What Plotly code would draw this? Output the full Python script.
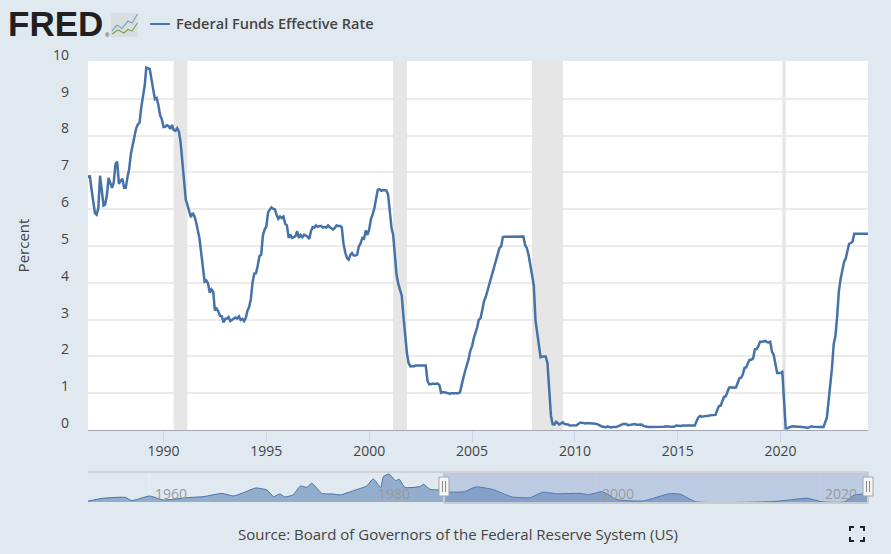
import pandas as pd
import plotly.graph_objects as go

W, H = 891, 554
BG = "#e1e9f0"
LINE = "#4572a7"
TXT = "#444444"
FONT = "Open Sans"

rate_start = "1986-05-01"
rate = [
 6.85,6.92,6.56,6.17,5.89,5.85,6.04,6.91,
 6.43,6.10,6.13,6.37,6.85,6.73,6.58,6.73,7.22,7.29,6.69,6.77,
 6.83,6.58,6.58,6.87,7.09,7.51,7.75,8.01,8.19,8.30,8.35,8.76,
 9.12,9.36,9.85,9.84,9.81,9.53,9.24,8.99,9.02,8.84,8.55,8.45,
 8.23,8.24,8.28,8.26,8.18,8.29,8.15,8.13,8.20,8.11,7.81,7.31,
 6.91,6.25,6.12,5.91,5.78,5.90,5.82,5.66,5.45,5.21,4.81,4.43,
 4.03,4.06,3.98,3.73,3.82,3.76,3.25,3.30,3.22,3.10,3.09,2.92,
 3.02,3.03,3.07,2.96,3.00,3.04,3.06,3.03,3.09,2.99,3.02,2.96,
 3.05,3.25,3.34,3.56,4.01,4.25,4.26,4.47,4.73,4.76,5.29,5.45,
 5.53,5.92,5.98,6.05,6.01,6.00,5.85,5.74,5.80,5.76,5.80,5.60,
 5.56,5.22,5.31,5.22,5.24,5.27,5.40,5.22,5.30,5.24,5.31,5.29,
 5.25,5.19,5.39,5.51,5.50,5.56,5.52,5.54,5.54,5.50,5.52,5.50,
 5.56,5.51,5.49,5.45,5.49,5.56,5.54,5.55,5.51,5.07,4.83,4.68,
 4.63,4.76,4.81,4.74,4.74,4.76,4.99,5.07,5.22,5.20,5.42,5.30,
 5.45,5.73,5.85,6.02,6.27,6.53,6.54,6.50,6.52,6.51,6.51,6.40,
 5.98,5.49,5.31,4.80,4.21,3.97,3.77,3.65,3.07,2.49,2.09,1.82,
 1.73,1.74,1.73,1.75,1.75,1.75,1.73,1.74,1.75,1.75,1.34,1.24,
 1.24,1.26,1.25,1.26,1.26,1.22,1.01,1.03,1.01,1.01,1.00,0.98,
 1.00,1.01,1.00,1.00,1.00,1.03,1.26,1.43,1.61,1.76,1.93,2.16,
 2.28,2.50,2.63,2.79,3.00,3.04,3.26,3.50,3.62,3.78,4.00,4.16,
 4.29,4.49,4.59,4.79,4.94,4.99,5.24,5.25,5.25,5.25,5.25,5.24,
 5.25,5.26,5.26,5.25,5.25,5.25,5.26,5.02,4.94,4.76,4.49,4.24,
 3.94,2.98,2.61,2.28,1.98,2.00,2.01,2.00,1.81,0.97,0.39,0.16,
 0.15,0.22,0.18,0.15,0.18,0.21,0.16,0.16,0.15,0.12,0.12,0.12,
 0.11,0.13,0.16,0.20,0.20,0.18,0.18,0.19,0.19,0.19,0.19,0.18,
 0.17,0.16,0.14,0.10,0.09,0.09,0.07,0.10,0.08,0.07,0.08,0.07,
 0.08,0.10,0.13,0.14,0.16,0.16,0.16,0.13,0.14,0.16,0.16,0.16,
 0.14,0.15,0.14,0.15,0.11,0.09,0.09,0.08,0.08,0.09,0.08,0.09,
 0.07,0.07,0.08,0.09,0.09,0.10,0.09,0.09,0.09,0.09,0.09,0.12,
 0.11,0.11,0.11,0.12,0.12,0.13,0.13,0.14,0.14,0.12,0.12,0.24,
 0.34,0.38,0.36,0.37,0.37,0.38,0.39,0.40,0.40,0.40,0.41,0.54,
 0.65,0.66,0.79,0.90,0.91,1.04,1.15,1.16,1.15,1.15,1.16,1.30,
 1.41,1.42,1.51,1.69,1.70,1.82,1.91,1.91,1.95,2.19,2.20,2.27,
 2.40,2.40,2.41,2.42,2.39,2.38,2.40,2.13,2.04,1.83,1.55,1.55,
 1.55,1.58,0.65,0.05,0.05,0.08,0.09,0.10,0.09,0.09,0.09,0.09,
 0.09,0.08,0.07,0.07,0.06,0.08,0.10,0.09,0.08,0.08,0.08,0.08,
 0.08,0.08,0.20,0.33,0.77,1.21,1.68,2.33,2.56,3.08,3.78,4.10,
 4.33,4.57,4.65,4.83,5.06,5.08,5.12,5.33,5.33,5.33,5.33,5.33,
 5.33,5.33,5.33,5.33,
]

nav_dates = ["1954-07","1955-11","1957-11","1958-06","1960-01","1961-04","1963-05","1964-11",
 "1966-07","1967-07","1968-06","1969-07","1970-07","1971-02","1971-09","1972-02","1972-11",
 "1973-07","1974-02","1974-07","1975-06","1976-06","1977-02","1978-04","1979-06","1980-01",
 "1980-09","1980-12","1981-06","1982-01","1982-05","1982-11","1984-03","1984-07","1985-02",
 "1986-04","1986-11","1988-03","1989-03","1990-09","1992-06","1994-01","1995-03","1996-06",
 "1998-07","1999-04","2000-07","2001-11","2004-03","2006-07","2007-07","2008-11","2015-11",
 "2018-11","2020-03","2022-03","2023-01","2024-04"]
nav_rate = [0.6,2.4,3.0,0.9,3.9,1.3,2.8,3.5,5.6,3.9,6.1,9.1,7.8,3.5,5.2,3.3,4.6,10.4,9.5,12.2,
 5.6,5.2,4.6,7.4,10.4,15.0,9.5,16.5,18.2,13.9,14.8,9.5,10.0,11.5,8.2,7.8,6.5,6.7,9.8,8.2,
 3.3,2.8,6.3,5.4,5.6,4.8,6.7,1.5,0.7,5.4,5.0,0.2,0.3,2.4,0.1,0.1,4.5,5.3]

recessions = [("1990-07-01","1991-03-01"),("2001-03-01","2001-11-01"),
              ("2007-12-01","2009-06-01"),("2020-02-01","2020-04-01")]
main_ticks = [1990,1995,2000,2005,2010,2015,2020]
nav_ticks = [1960,1980,2000,2020]
y_ticks = list(range(0,11))
Y_TOP = 10.027
NAV_TOP = 19.5
PLOT_L, PLOT_R = 88, 868

dates = pd.date_range(rate_start, periods=len(rate), freq="MS")
nav_x = pd.to_datetime(nav_dates)
win0, win1 = str(dates[0].date()), str(dates[-1].date())
NAV_START = "1954-07-01"

def py(p): return 1 - p/H
def px(p): return p/W
def path(pts):
    return "M" + " L".join(f"{px(a):.5f},{py(b):.5f}" for a, b in pts)
def nav_px(d):
    t0, t1 = pd.Timestamp(NAV_START), pd.Timestamp(win1)
    return PLOT_L + (pd.Timestamp(d) - t0) / (t1 - t0) * (PLOT_R - PLOT_L)

fig = go.Figure()
fig.add_trace(go.Scatter(x=dates, y=rate, name="Federal Funds Effective Rate", mode="lines",
    line=dict(color=LINE, width=2.5), xaxis="x", yaxis="y", showlegend=False))
fig.add_trace(go.Scatter(x=nav_x, y=nav_rate, mode="lines", name="Navigator",
    line=dict(color=LINE, width=1, shape="spline", smoothing=0.5),
    fill="tozeroy", fillcolor="rgba(69,114,167,0.5)",
    xaxis="x2", yaxis="y2", showlegend=False))

shapes = []
shapes.append(dict(type="rect", xref="x2", yref="y2", x0=NAV_START, x1=win1, y0=0, y1=NAV_TOP,
                   fillcolor=BG, line_width=0, layer="below"))
for a, b in recessions:
    shapes.append(dict(type="rect", xref="x", yref="y", x0=a, x1=b, y0=0, y1=Y_TOP,
                       fillcolor="#e6e6e6", line_width=0, layer="between"))
shapes.append(dict(type="rect", xref="x2", yref="y2", x0=win0, x1=win1, y0=0, y1=NAV_TOP,
                   fillcolor="rgba(102,133,194,0.3)", line_width=0, layer="above"))
shapes.append(dict(type="line", xref="paper", yref="paper", x0=px(PLOT_L), x1=px(PLOT_R),
                   y0=py(472), y1=py(472), line=dict(color="#cfd2d6", width=2)))
shapes.append(dict(type="line", xref="paper", yref="paper", x0=px(nav_px(win0)), x1=px(PLOT_R),
                   y0=py(503), y1=py(503), line=dict(color="#c6cad2", width=2)))
for w in (win0, win1):
    c = nav_px(w)
    shapes.append(dict(type="line", xref="paper", yref="paper", x0=px(c), x1=px(c),
                       y0=py(472), y1=py(503), line=dict(color="#c6cad2", width=2)))
    shapes.append(dict(type="rect", xref="paper", yref="paper", x0=px(c-5), x1=px(c+5),
                       y0=py(477), y1=py(496),
                       fillcolor="#f4f4f4", line=dict(color="#a6a6a6", width=1)))
    for dx in (-1.5, 1.5):
        shapes.append(dict(type="line", xref="paper", yref="paper", x0=px(c+dx), x1=px(c+dx),
                           y0=py(481), y1=py(492), line=dict(color="#8a8a8a", width=1)))
shapes.append(dict(type="line", xref="paper", yref="paper", x0=px(150), x1=px(170),
                   y0=py(24), y1=py(24), line=dict(color=LINE, width=2)))
shapes.append(dict(type="rect", xref="paper", yref="paper", x0=px(111), x1=px(138),
                   y0=py(37), y1=py(13), fillcolor="#d9dee1", line_width=0))
shapes.append(dict(type="path", xref="paper", yref="paper", line=dict(color="#7fa6bf", width=1.2),
                   path=path([(112,31),(117,25),(122,28.5),(128,21),(132,23),(137.5,14)])))
shapes.append(dict(type="path", xref="paper", yref="paper", line=dict(color="#7da65a", width=1.2),
                   path=path([(112,34),(118,30),(124,33),(128,29.5),(132,31),(137.5,23)])))
for pts in ([(850,531),(850,527),(854,527)], [(860,527),(864,527),(864,531)],
            [(850,537),(850,541),(854,541)], [(860,541),(864,541),(864,537)]):
    shapes.append(dict(type="path", xref="paper", yref="paper",
                       line=dict(color="#222222", width=2), path=path(pts)))

ann = [
    dict(text="<b>FRED</b>", x=px(6), y=py(23.5), xanchor="left", yanchor="middle",
         font=dict(family="Liberation Sans", size=35, color="#231f20")),
    dict(text="®", x=px(103), y=py(35), xanchor="left", yanchor="middle",
         font=dict(family="Liberation Sans", size=6, color="#231f20")),
    dict(text="Federal Funds Effective Rate", x=px(173.5), y=py(24), xanchor="left", yanchor="middle",
         font=dict(family=FONT, size=14.5, color="#444444", weight=600)),
    dict(text="Source: Board of Governors of the Federal Reserve System (US)", x=px(458), y=py(533.5),
         xanchor="center", yanchor="middle", font=dict(family=FONT, size=15, color=TXT)),
]
for a in ann:
    a.update(xref="paper", yref="paper", showarrow=False)
for yr in nav_ticks:
    ann.append(dict(text=str(yr), x=f"{yr}-01-01", xref="x2", y=py(493.5), yref="paper",
                    xanchor="left", xshift=3, yanchor="middle", showarrow=False,
                    font=dict(family=FONT, size=14, color="#9a9a9a")))

fig.update_layout(
    width=W, height=H, autosize=False,
    margin=dict(l=0, r=0, t=0, b=0, pad=0),
    paper_bgcolor=BG, plot_bgcolor="#ffffff",
    font=dict(family=FONT, size=14, color=TXT),
    showlegend=False, hovermode=False,
    shapes=shapes, annotations=ann,
    xaxis=dict(domain=[px(PLOT_L), px(PLOT_R)], anchor="y", type="date", range=[win0, win1],
               tickvals=[f"{y}-01-01" for y in main_ticks], ticktext=[str(y) for y in main_ticks],
               ticks="outside", ticklen=11, tickwidth=1, tickcolor="#ccd6eb",
               showline=True, linecolor="#a3a6b4", linewidth=1, showgrid=False, zeroline=False,
               ticklabelstandoff=-3,
               tickfont=dict(family=FONT, size=14, color=TXT), automargin=False),
    yaxis=dict(domain=[py(430), py(61)], anchor="x", range=[0, Y_TOP],
               tickvals=y_ticks, ticks="", showline=False, zeroline=False,
               gridcolor="#ebebeb", gridwidth=2, ticklabelshift=-7, ticklabelstandoff=18,
               tickfont=dict(family=FONT, size=14, color=TXT), automargin=False,
               title=dict(text="Percent", font=dict(family=FONT, size=15, color=TXT), standoff=19)),
    xaxis2=dict(domain=[px(PLOT_L), px(PLOT_R)], anchor="y2", type="date", range=[NAV_START, win1],
                tickvals=[f"{y}-01-01" for y in nav_ticks], showticklabels=False, ticks="",
                showgrid=True, gridcolor="#e9eef3", gridwidth=1, showline=False, zeroline=False,
                automargin=False),
    yaxis2=dict(domain=[py(502), py(472)], anchor="x2", range=[0, NAV_TOP], showticklabels=False,
                ticks="", showgrid=False, zeroline=False, showline=False, automargin=False),
)
fig.write_html("out.html", config={"displayModeBar": False},
               post_script="document.body.style.margin='0';document.body.style.overflow='hidden';")
